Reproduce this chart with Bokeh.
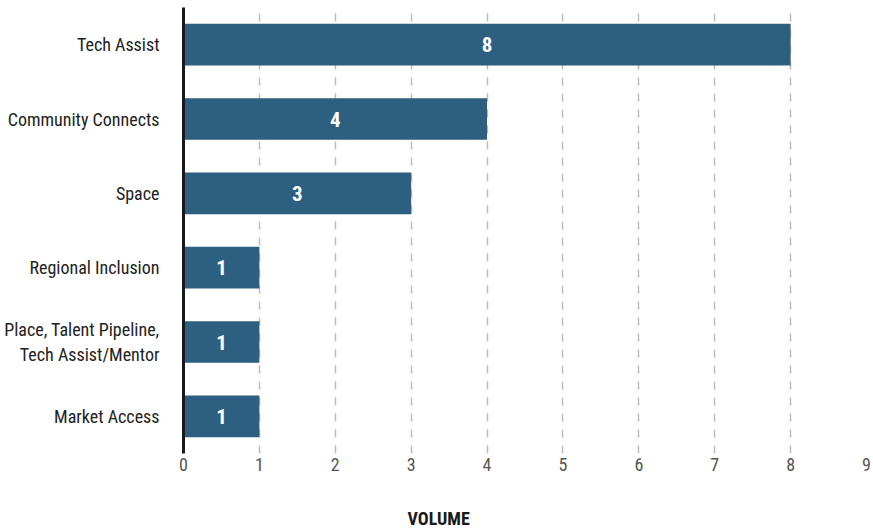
from bokeh.plotting import figure
from bokeh.models import ColumnDataSource, FactorRange, Range1d, FixedTicker, Title
from bokeh.core.properties import value
from bokeh.embed import file_html
from bokeh.resources import INLINE

categories = ["Tech Assist", "Community Connects", "Space", "Regional Inclusion",
              "Place, Talent Pipeline,\nTech Assist/Mentor", "Market Access"]
volumes = [8, 4, 3, 1, 1, 1]
x_ticks = [0, 1, 2, 3, 4, 5, 6, 7, 8, 9]
x_title = "VOLUME"

FONT = "Roboto Condensed"

src = ColumnDataSource(dict(
    cat=categories,
    vol=volumes,
    mid=[v / 2 for v in volumes],
    lbl=[str(v) for v in volumes],
))

p = figure(width=873, height=531, output_backend="svg", toolbar_location=None,
           y_range=FactorRange(*reversed(categories), range_padding=0),
           x_range=Range1d(0, 9),
           min_border_left=183, min_border_right=7, min_border_top=7, min_border_bottom=78)
p.outline_line_color = None
p.background_fill_color = "white"
p.border_fill_color = "white"

p.hbar(y="cat", right="vol", left=0, height=0.56, source=src,
       fill_color="#2c5f80", line_color=None)
p.text(x="mid", y="cat", text="lbl", source=src, text_color="white",
       text_font=value(FONT), text_font_style="bold", text_font_size="21px",
       text_align="center", text_baseline="middle")

# x axis
p.xaxis.ticker = FixedTicker(ticks=x_ticks)
p.xaxis.axis_line_color = None
p.xaxis.major_tick_line_color = None
p.xaxis.minor_tick_line_color = None
p.xaxis.major_tick_out = 0
p.xaxis.major_label_standoff = 4
p.xaxis.major_label_text_font = FONT
p.xaxis.major_label_text_font_size = "18px"
p.xaxis.major_label_text_color = "#555555"

# y axis
p.yaxis.axis_line_color = "#1a1a1a"
p.yaxis.axis_line_width = 3
p.yaxis.major_tick_line_color = None
p.yaxis.minor_tick_line_color = None
p.yaxis.major_tick_out = 0
p.yaxis.major_label_standoff = 24
p.yaxis.major_label_text_font = FONT
p.yaxis.major_label_text_font_size = "18px"
p.yaxis.major_label_text_color = "#222222"

# grid
p.ygrid.grid_line_color = None
p.xgrid.grid_line_color = "#bbbbbb"
p.xgrid.grid_line_width = 1.5
p.xgrid.grid_line_dash = "8 8"

# spacer, then the axis title
p.add_layout(Title(text=" ", text_font_size="1px", standoff=29), "below")
p.add_layout(Title(text=x_title, align="left", offset=224, text_font=FONT,
                   text_font_size="18px", text_font_style="bold",
                   text_color="#1a1a1a", standoff=0), "below")

open("out.html", "w").write(file_html(p, INLINE))
